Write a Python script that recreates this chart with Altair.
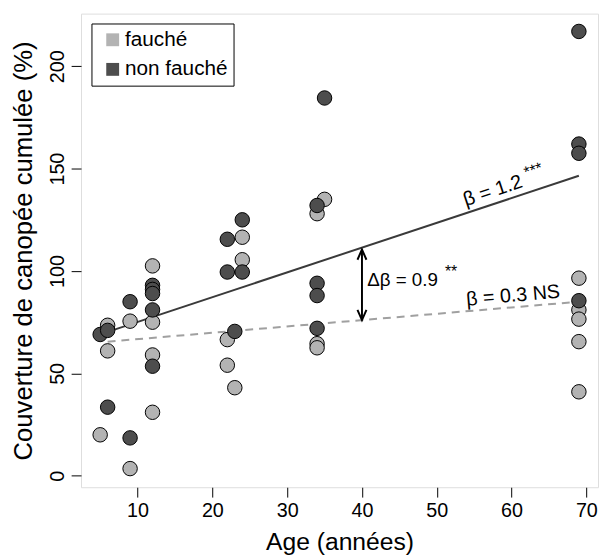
import altair as alt
import pandas as pd

# ---------------- data ----------------
groups = ["fauché", "non fauché"]
colors = ["#B3B3B3", "#4D4D4D"]

f_age = [5, 6, 6, 9, 9, 12, 12, 12, 12, 22, 22, 23, 24, 24, 34, 34, 34, 35, 69, 69, 69, 69, 69]
f_cov = [20, 73.5, 61, 75.5, 3.5, 102.5, 75, 59, 31, 66.5, 54, 43, 116.5, 105.5, 128, 64.5, 62.5, 135, 96.5, 81, 76.5, 65.5, 41]

nf_age = [5, 6, 6, 9, 9, 12, 12, 12, 12, 12, 22, 22, 23, 24, 24, 34, 34, 34, 34, 35, 69, 69, 69, 69]
nf_cov = [69, 71, 33.5, 85, 18.5, 93, 91, 89, 81, 53.5, 115.5, 99.5, 70.5, 125, 99.5, 132, 94, 88, 72, 184.5, 217, 162, 157.5, 85.5]

solid_x = [6, 69]
solid_y = [70.3, 146.5]
dashed_x = [6, 69]
dashed_y = [65.5, 85]

arrow_x = 40
arrow_top = 110.5
arrow_bottom = 76

x_ticks = [10, 20, 30, 40, 50, 60, 70]
y_ticks = [0, 50, 100, 150, 200]
x_domain = [2.44, 71.56]
y_domain = [-5.6, 225.7]

ann_text = ["Δβ = 0.9", "**", "β = 1.2", "***", "β = 0.3 NS"]
ann_x = [40.7, 51.1, 57.5, 62.9, 60.2]
ann_y = [95.8, 99.5, 139.1, 149.2, 87.9]
ann_angle = [0, 0, 341.6, 341.6, 355.1]
ann_size = [19, 16, 20, 16, 20]
ann_align = ["left", "left", "center", "center", "center"]

FONT = "Liberation Sans"

# ---------------- tables ----------------
pts = pd.DataFrame({
    "age": f_age + nf_age,
    "cov": f_cov + nf_cov,
    "groupe": [groups[0]] * len(f_age) + [groups[1]] * len(nf_age),
    "ordre": [0] * len(f_age) + [1] * len(nf_age),
})

xs = alt.Scale(domain=x_domain, nice=False, zero=False)
ys = alt.Scale(domain=y_domain, nice=False, zero=False)

x_axis = alt.Axis(values=x_ticks, tickSize=10, tickColor="black", tickWidth=1, domain=False, grid=False,
                  labelFontSize=20, labelFont=FONT, labelColor="black", labelPadding=4,
                  titleFontSize=25, titleFont=FONT, titleFontWeight="normal", titleColor="black",
                  titlePadding=9, labelFlush=False)
y_axis = alt.Axis(values=y_ticks, tickSize=10, tickColor="black", tickWidth=1, domain=False, grid=False,
                  labelFontSize=20, labelFont=FONT, labelColor="black", labelAngle=270,
                  labelAlign="center", labelBaseline="alphabetic", labelPadding=8, labelFlush=False,
                  titleFontSize=26, titleFont=FONT, titleFontWeight="normal", titleColor="black",
                  titlePadding=11)

points = alt.Chart(pts).mark_point(
    filled=True, shape="circle", size=215, stroke="black", strokeWidth=1, opacity=1
).encode(
    x=alt.X("age:Q", scale=xs, axis=x_axis, title="Age (années)"),
    y=alt.Y("cov:Q", scale=ys, axis=y_axis, title="Couverture de canopée cumulée (%)"),
    fill=alt.Fill("groupe:N", scale=alt.Scale(domain=groups, range=colors),
                  legend=alt.Legend(title=None, orient="none", legendX=10.6, legendY=10,
                                    symbolType="square", symbolSize=170, symbolStrokeWidth=0,
                                    symbolOpacity=1, symbolOffset=5,
                                    labelFontSize=21, labelFont=FONT, labelColor="black",
                                    strokeColor="black", fillColor="white", padding=6,
                                    rowPadding=8, labelOffset=2)),
    order=alt.Order("ordre:Q"),
)

solid = alt.Chart(pd.DataFrame({"age": solid_x, "cov": solid_y})).mark_line(
    color="#3A3A3A", strokeWidth=2
).encode(x=alt.X("age:Q", scale=xs), y=alt.Y("cov:Q", scale=ys))

dashed = alt.Chart(pd.DataFrame({"age": dashed_x, "cov": dashed_y})).mark_line(
    color="#A0A0A0", strokeWidth=2, strokeDash=[8, 6]
).encode(x=alt.X("age:Q", scale=xs), y=alt.Y("cov:Q", scale=ys))

arrow = alt.Chart(pd.DataFrame({"age": [arrow_x], "y1": [arrow_bottom], "y2": [arrow_top]})).mark_rule(
    color="black", strokeWidth=2
).encode(x=alt.X("age:Q", scale=xs), y=alt.Y("y1:Q", scale=ys), y2="y2:Q")

hdx, hdy = 0.6, 5.0
heads = pd.DataFrame({
    "age": [arrow_x - hdx, arrow_x, arrow_x + hdx, arrow_x - hdx, arrow_x, arrow_x + hdx],
    "cov": [arrow_top - hdy, arrow_top, arrow_top - hdy, arrow_bottom + hdy, arrow_bottom, arrow_bottom + hdy],
    "head": ["t", "t", "t", "b", "b", "b"],
    "k": [0, 1, 2, 0, 1, 2],
})
arrow_heads = alt.Chart(heads).mark_line(color="black", strokeWidth=2).encode(
    x=alt.X("age:Q", scale=xs), y=alt.Y("cov:Q", scale=ys), detail="head:N", order="k:Q"
)

texts = []
for t, ax, ay, ang, sz, al in zip(ann_text, ann_x, ann_y, ann_angle, ann_size, ann_align):
    texts.append(
        alt.Chart(pd.DataFrame({"age": [ax], "cov": [ay], "t": [t]})).mark_text(
            font=FONT, fontSize=sz, color="black", angle=ang, align=al, baseline="middle"
        ).encode(x=alt.X("age:Q", scale=xs), y=alt.Y("cov:Q", scale=ys), text="t:N")
    )

chart = alt.layer(dashed, solid, arrow, arrow_heads, points, *texts).properties(
    width=524, height=480,
    autosize=alt.AutoSizeParams(type="none"),
    padding={"left": 74, "top": 2, "right": 2, "bottom": 66},
).configure_view(stroke="black", strokeWidth=1).configure(background="white")

chart.save("out.html", embed_options={"renderer": "svg", "actions": False})
